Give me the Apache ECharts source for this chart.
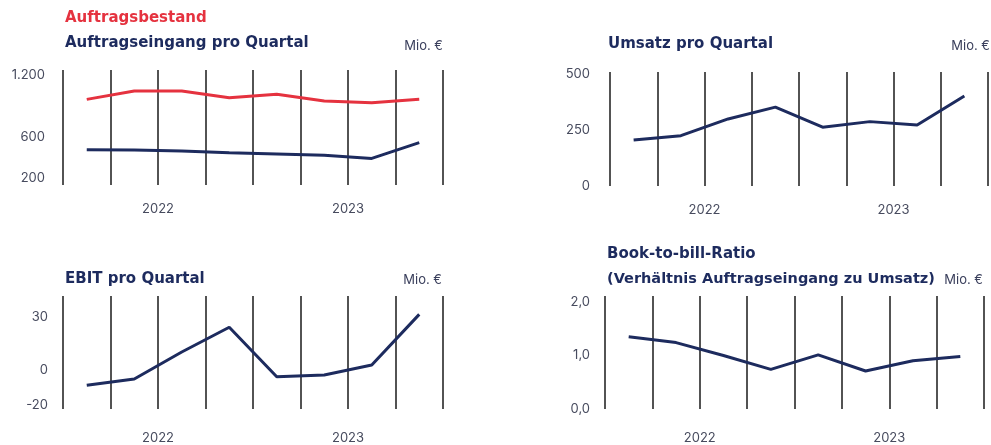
<!DOCTYPE html>
<html>
<head>
<meta charset="utf-8">
<script src="https://cdn.jsdelivr.net/npm/echarts@6/dist/echarts.min.js"></script>
<style>
html, body { margin: 0; padding: 0; background: #fff; }
#chart { width: 991px; height: 445px; }
</style>
</head>
<body>
<div id="chart"></div>
<script>
var quarters = ['Quartal 1', 'Quartal 2', 'Quartal 3', 'Quartal 4', 'Quartal 5', 'Quartal 6', 'Quartal 7', 'Quartal 8'];
var yearLabels = ['', '2022', '', '2023', ''];

// Mio. €
var auftragsbestand = [964, 1045, 1045, 980, 1013, 948, 931, 964];
var auftragseingang = [474, 471, 461, 444, 432, 419, 389, 542];
var umsatz = [206, 225, 300, 353, 263, 288, 273, 403];
var ebit = [-8.6, -5.0, 10.3, 24.3, -3.7, -2.7, 2.9, 31.6];
var bookToBill = [1.35, 1.24, 1.00, 0.74, 1.01, 0.71, 0.90, 0.98];

var ticksAuftrag = [200, 600, 1200];
var ticksUmsatz = [0, 250, 500];
var ticksEbit = [-20, 0, 30];
var ticksBtb = [0, 1, 2];

var navy = '#1d2b5e';
var red = '#e5323f';
var labelColor = '#474b5e';
var font = 'Inter, "Noto Sans", sans-serif';
var titleFont = '"DejaVu Sans", sans-serif';

var chart = echarts.init(document.getElementById('chart'));

function deNumber(v) {
    return String(v).replace(/\B(?=(\d{3})+(?!\d))/g, '.');
}

var grids = [
    { left: 63, top: 70, width: 380, height: 115 },
    { left: 610, top: 72, width: 380, height: 114 },
    { left: 63, top: 296, width: 380, height: 113 },
    { left: 605, top: 296, width: 379, height: 113 }
];
var yearMargins = [18, 18, 23, 23];

var xAxes = [];
grids.forEach(function (g, i) {
    xAxes.push({
        type: 'category',
        gridIndex: i,
        data: quarters,
        boundaryGap: true,
        position: 'top',
        axisLine: { show: false },
        axisTick: { show: false },
        axisLabel: { show: false },
        splitLine: { show: true, interval: 0, lineStyle: { color: '#1a1a1a', width: 1.5 } }
    });
    xAxes.push({
        type: 'category',
        gridIndex: i,
        data: yearLabels,
        boundaryGap: false,
        position: 'bottom',
        axisLine: { show: false },
        axisTick: { show: false },
        splitLine: { show: false },
        axisLabel: { interval: 0, margin: yearMargins[i], color: labelColor, fontSize: 13, fontFamily: font }
    });
});

function yAxis(i, min, max, ticks, margin, fmt) {
    return {
        type: 'value',
        gridIndex: i,
        min: min,
        max: max,
        axisLine: { show: false },
        axisTick: { show: false },
        splitLine: { show: false },
        axisLabel: {
            customValues: ticks,
            margin: margin,
            color: labelColor,
            fontSize: 13,
            fontFamily: font,
            formatter: fmt
        }
    };
}

function lineSeries(name, data, color, gi) {
    return {
        name: name,
        type: 'line',
        xAxisIndex: gi * 2,
        yAxisIndex: gi,
        data: data,
        symbol: 'none',
        lineStyle: { color: color, width: 3 },
        itemStyle: { color: color }
    };
}

function txt(text, x, y, size, weight, color, align, family) {
    return {
        type: 'text',
        x: x,
        y: y,
        style: {
            text: text,
            font: weight + ' ' + size + 'px ' + (family || font),
            fill: color,
            align: align || 'left',
            verticalAlign: 'middle'
        }
    };
}

option = {
    animation: false,
    grid: grids,
    xAxis: xAxes,
    yAxis: [
        yAxis(0, 130, 1250, ticksAuftrag, 18, deNumber),
        yAxis(1, 0, 510, ticksUmsatz, 20),
        yAxis(2, -22, 42, ticksEbit, 15),
        yAxis(3, 0, 2.11, ticksBtb, 15, function (v) { return v.toFixed(1).replace('.', ','); })
    ],
    graphic: [
        txt('Auftragsbestand', 65, 18, 15, 'bold', red, 'left', titleFont),
        txt('Auftragseingang pro Quartal', 65, 43, 15, 'bold', navy, 'left', titleFont),
        txt('Mio. €', 443, 46, 13, 'normal', '#3a3f5c', 'right'),
        txt('Umsatz pro Quartal', 608, 44, 15, 'bold', navy, 'left', titleFont),
        txt('Mio. €', 990, 46, 13, 'normal', '#3a3f5c', 'right'),
        txt('EBIT pro Quartal', 65, 279, 15, 'bold', navy, 'left', titleFont),
        txt('Mio. €', 442, 280, 13, 'normal', '#3a3f5c', 'right'),
        txt('Book-to-bill-Ratio', 607, 254, 15, 'bold', navy, 'left', titleFont),
        txt('(Verhältnis Auftragseingang zu Umsatz)', 607, 279, 14.5, 'bold', navy, 'left', titleFont),
        txt('Mio. €', 983, 280, 13, 'normal', '#3a3f5c', 'right')
    ],
    series: [
        lineSeries('Auftragsbestand', auftragsbestand, red, 0),
        lineSeries('Auftragseingang', auftragseingang, navy, 0),
        lineSeries('Umsatz', umsatz, navy, 1),
        lineSeries('EBIT', ebit, navy, 2),
        lineSeries('Book-to-bill-Ratio', bookToBill, navy, 3)
    ]
};

chart.setOption(option);
</script>
</body>
</html>
